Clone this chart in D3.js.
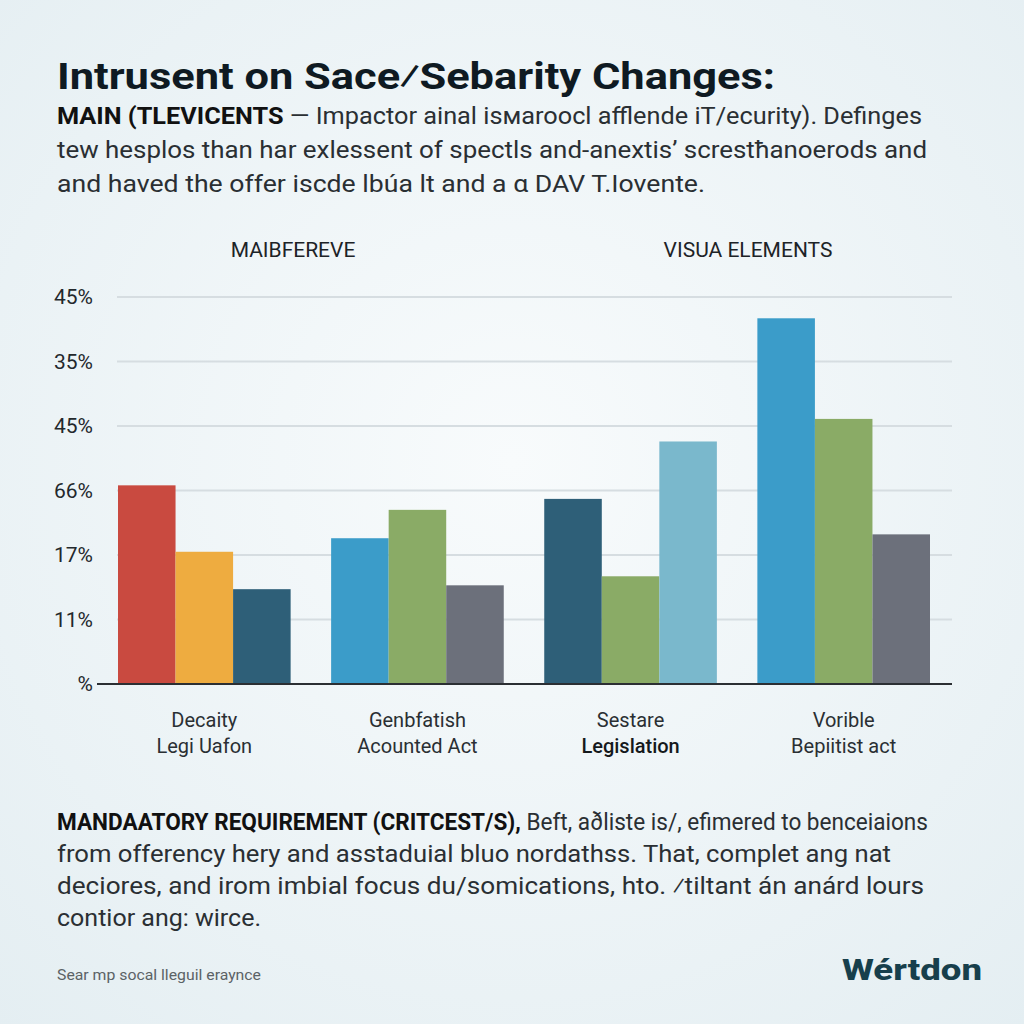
<!DOCTYPE html>
<html>
<head>
<meta charset="utf-8">
<script src="https://cdn.jsdelivr.net/npm/d3@7"></script>
<style>
  html, body { margin: 0; padding: 0; }
  body { width: 1024px; height: 1024px; overflow: hidden; }
  text { font-family: "Roboto", "Open Sans", sans-serif; }
</style>
</head>
<body>
<script>
    // data (y values are in "gridline steps")
    var groupNames = ["Decaity Legi Uafon", "Genbfatish Acounted Act", "Sestare Legislation", "Vorible Bepiitist act"];
    var labelLine1 = ["Decaity", "Genbfatish", "Sestare", "Vorible"];
    var labelLine2 = ["Legi Uafon", "Acounted Act", "Legislation", "Bepiitist act"];
    var barValues = [
        [3.08, 2.05, 1.47],
        [2.26, 2.70, 1.53],
        [2.87, 1.67, 3.76],
        [5.67, 4.11, 2.32]
    ];
    var barColors = [
        ["#c94a40", "#eeac40", "#2e5f78"],
        ["#3b9cc9", "#8aab66", "#6c707b"],
        ["#2e5f78", "#8aab66", "#7ab8cc"],
        ["#3b9cc9", "#8aab66", "#6c707b"]
    ];
    var yTicks = [0, 1, 2, 3, 4, 5, 6];
    var yTickLabels = ["%", "11%", "17%", "66%", "45%", "35%", "45%"];
    var sectionHeads = ["MAIBFEREVE", "VISUA ELEMENTS"];

    var svg = d3.select('body').append('svg')
            .attr('width', 1024)
            .attr('height', 1024);

    // BACKGROUND
    var defs = svg.append('defs');
    var grad = defs.append('radialGradient').attr('id', 'bg')
            .attr('cx', '50%').attr('cy', '45%').attr('r', '75%');
    grad.append('stop').attr('offset', '0%').attr('stop-color', '#f8fbfc');
    grad.append('stop').attr('offset', '100%').attr('stop-color', '#e4eef2');
    svg.append('rect').attr('width', 1024).attr('height', 1024).attr('fill', 'url(#bg)');

    // TITLE + INTRO
    svg.append('text')
            .attr('x', 57).attr('y', 89)
            .attr('font-size', 36).attr('font-weight', 700).attr('fill', '#0f1a22')
            .attr('textLength', 718).attr('lengthAdjust', 'spacingAndGlyphs')
            .text('Intrusent on Sace\u2044Sebarity Changes:');

    function para(lines, x, y0, dy, size, fill) {
        lines.forEach(function (ln, i) {
            var t = svg.append('text')
                    .attr('x', x).attr('y', y0 + i * dy)
                    .attr('font-size', size).attr('fill', fill)
                    .attr('textLength', ln.w).attr('lengthAdjust', 'spacingAndGlyphs');
            if (ln.b) {
                t.append('tspan').attr('font-weight', 700).attr('fill', '#111').text(ln.b);
            }
            t.append('tspan').text(ln.t);
        });
    }

    para([
        {b: 'MAIN (TLEVICENTS', t: ' \u2014 Impactor ainal isмaroocl afflende iT/ecurity). Definges', w: 865},
        {t: 'tew hesplos than har exlessent of spectls and-anextis\u2019 screstħanoerods and', w: 870},
        {t: 'and haved the offer iscde lbúa lt and a \u03b1 DAV T.Iovente.', w: 648}
    ], 57, 124, 34, 23, '#2a2f33');

    // SECTION HEADS
    svg.selectAll('.head').data(sectionHeads).enter().append('text')
            .attr('class', 'head')
            .attr('x', function (d, i) { return i === 0 ? 293 : 748; })
            .attr('y', 257)
            .attr('text-anchor', 'middle')
            .attr('font-size', 21).attr('fill', '#1d2327')
            .text(function (d) { return d; });

    // SCALES
    var y = d3.scaleLinear().domain([0, 6]).range([684, 297]);
    var x0 = d3.scaleBand().domain(groupNames).range([118, 930])
            .paddingInner(0.19).paddingOuter(0);
    var x1 = d3.scaleBand().domain([0, 1, 2]).range([0, x0.bandwidth()]);

    // GRIDLINES
    svg.append('g').selectAll('line').data(yTicks.slice(1)).enter().append('line')
            .attr('x1', 117).attr('x2', 952)
            .attr('y1', function (d) { return y(d); })
            .attr('y2', function (d) { return y(d); })
            .attr('stroke', '#d6dde1').attr('stroke-width', 2);

    // Y AXIS LABELS
    var yAxis = d3.axisLeft(y).tickValues(yTicks).tickSize(0).tickPadding(0)
            .tickFormat(function (d, i) { return yTickLabels[i]; });
    var yg = svg.append('g').attr('transform', 'translate(93,0)').call(yAxis);
    yg.select('.domain').remove();
    yg.selectAll('text').attr('font-size', 21).attr('fill', '#23282c')
            .attr('font-family', '"Open Sans", sans-serif');

    // BARS
    var grp = svg.append('g').selectAll('g').data(groupNames).enter().append('g')
            .attr('transform', function (d) { return 'translate(' + x0(d) + ',0)'; });
    grp.selectAll('rect').data(function (d, gi) {
        return barValues[gi].map(function (v, k) { return {v: v, k: k, c: barColors[gi][k]}; });
    }).enter().append('rect')
            .attr('x', function (d) { return x1(d.k); })
            .attr('width', x1.bandwidth())
            .attr('y', function (d) { return y(d.v); })
            .attr('height', function (d) { return y(0) - y(d.v); })
            .attr('fill', function (d) { return d.c; });

    // BASELINE
    svg.append('line').attr('x1', 97).attr('x2', 952)
            .attr('y1', y(0)).attr('y2', y(0))
            .attr('stroke', '#2b2f33').attr('stroke-width', 2);

    // X LABELS
    var xl = svg.append('g').selectAll('g').data(groupNames).enter().append('g')
            .attr('transform', function (d) { return 'translate(' + (x0(d) + x0.bandwidth() / 2) + ',0)'; });
    xl.append('text').attr('y', 727).attr('text-anchor', 'middle')
            .attr('font-size', 20).attr('fill', '#2a2f33')
            .text(function (d, i) { return labelLine1[i]; });
    xl.append('text').attr('y', 753).attr('text-anchor', 'middle')
            .attr('font-size', 20)
            .attr('fill', function (d, i) { return i === 2 ? '#15191c' : '#2a2f33'; })
            .attr('font-weight', function (d, i) { return i === 2 ? 500 : 400; })
            .text(function (d, i) { return labelLine2[i]; });

    // BOTTOM PARAGRAPH
    para([
        {b: 'MANDAATORY REQUIREMENT (CRITCEST/S),', t: ' Beft, a\u00f0liste is/, efimered to benceiaions', w: 871},
        {t: 'from offerency hery and asstaduial bluo nordathss. That, complet ang nat', w: 834},
        {t: 'deciores, and irom imbial focus du/somications, hto. \u2044tiltant án anárd lours', w: 867},
        {t: 'contior ang: wirce.', w: 204}
    ], 57, 830, 32, 23, '#2a2f33');

    // FOOTER
    svg.append('text').attr('x', 57).attr('y', 980)
            .attr('font-size', 14).attr('fill', '#5b6266')
            .attr('textLength', 204).attr('lengthAdjust', 'spacingAndGlyphs')
            .text('Sear mp socal lleguil eraynce');
    svg.append('text').attr('x', 982).attr('y', 980)
            .attr('text-anchor', 'end')
            .attr('font-size', 30).attr('font-weight', 800).attr('fill', '#173f4c')
            .attr('textLength', 140).attr('lengthAdjust', 'spacingAndGlyphs')
            .text('Wértdon');
</script>
</body>
</html>
